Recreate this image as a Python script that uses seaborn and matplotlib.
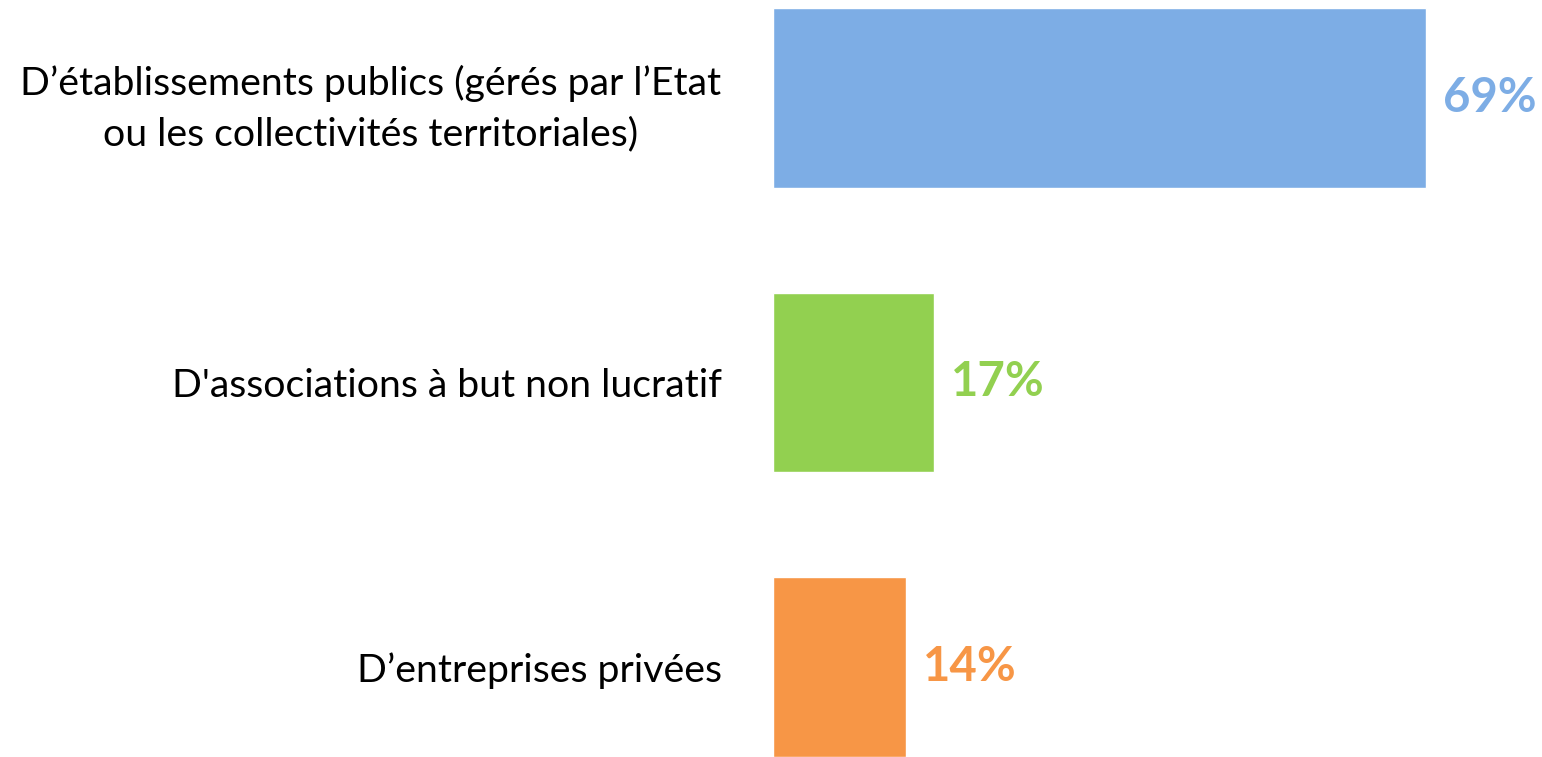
import pandas as pd
import matplotlib.pyplot as plt
import seaborn as sns

categories = [
    "D\u2019établissements publics (gérés par l\u2019Etat\nou les collectivités territoriales)",
    "D'associations à but non lucratif",
    "D\u2019entreprises privées",
]
values = [69, 17, 14]
colors = ["#7DADE5", "#92D050", "#F79646"]

df = pd.DataFrame({"category": categories, "value": values})

sns.set_style("white")
plt.rcParams["font.family"] = ["Lato", "DejaVu Sans"]

fig = plt.figure(figsize=(15.42, 7.57), dpi=100)
ax = fig.add_axes([773 / 1542, 0.0, 1 - 773 / 1542, 1.0])

sns.barplot(data=df, x="value", y="category", hue="category", palette=colors,
            width=0.63, legend=False, ax=ax, saturation=1)

ax.set_xlim(0, 81.25)
ax.set_ylim(2.316, -0.344)
ax.set_xlabel("")
ax.set_ylabel("")
ax.set_xticks([])
ax.tick_params(axis="y", length=0, pad=37, labelsize=28.3, labelcolor="black")
for lbl in ax.get_yticklabels():
    lbl.set_horizontalalignment("right")
    lbl.set_multialignment("center")
    lbl.set_linespacing(1.5)
sns.despine(ax=ax, left=True, bottom=True)

# value labels
for i, (v, c) in enumerate(zip(values, colors)):
    ax.text(v + 1.8, i, f"{v}%", color=c, fontsize=34, fontweight="bold",
            va="center", ha="left")

fig.savefig("out.png", dpi=100)
